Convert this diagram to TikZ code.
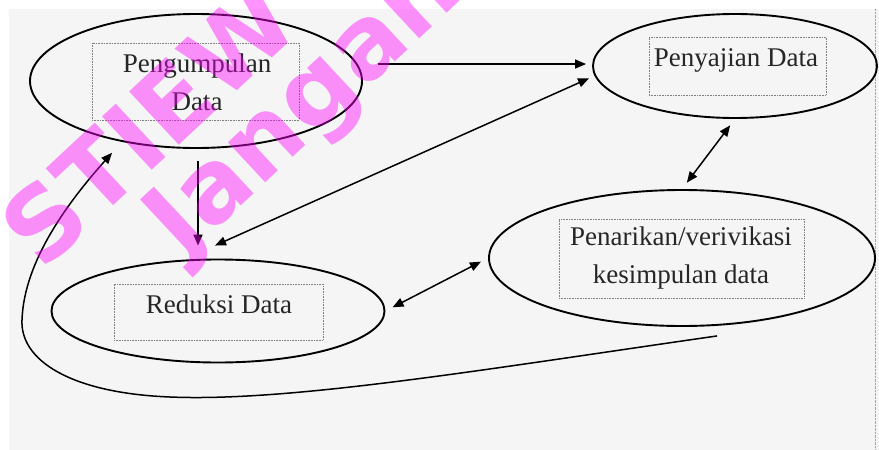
\documentclass[tikz,border=0pt]{standalone}
\usepackage{fontspec}
\setmainfont{Liberation Serif}
\newfontfamily\airfont{DejaVu Sans}
\usetikzlibrary{shapes.geometric,arrows.meta,positioning}
\definecolor{airungu}{RGB}{255,0,255}

\tikzset{
  tahap/.style={draw,ellipse,line width=1.9pt,inner sep=0pt},
  kotak/.style={draw=black!50,densely dotted,line width=.6pt,inner sep=0pt},
  teks/.style={font=\fontsize{27}{38}\selectfont,align=center,text=black!85,inner sep=0pt},
  panah/.style={line width=1.5pt,-{Triangle[length=11pt,width=9pt]}},
  duapanah/.style={line width=1.5pt,{Triangle[length=11pt,width=9pt]}-{Triangle[length=11pt,width=9pt]}},
  tandaair/.style={font=\airfont\bfseries\fontsize{100}{100}\selectfont,text=airungu,text opacity=.42,rotate=43,inner sep=0pt}
}

\begin{document}
\begin{tikzpicture}[x=1pt,y=-1pt]
\useasboundingbox (0,0) rectangle (879,450);
% latar
\fill[black!4] (9,9) rectangle (879,450);
\draw[black!35,densely dotted] (875,9) -- (875,450);

% tahap-tahap analisis
\node[tahap,minimum width=332pt,minimum height=134pt] (kumpul) at (196,81) {};
\node[kotak,minimum width=207pt,minimum height=77pt] (kumpulkotak) at (195.5,81.5) {};
\node[teks] (kumpulteks) at (197,82) {Pengumpulan\\Data};

\node[tahap,minimum width=284pt,minimum height=104pt] (saji) at (735,66) {};
\node[kotak,minimum width=177pt,minimum height=58pt] (sajikotak) at (737.5,66) {};
\node[teks] (sajiteks) at (736,60) {Penyajian Data};

\node[tahap,minimum width=386pt,minimum height=136pt] (tarik) at (682,258) {};
\node[kotak,minimum width=245pt,minimum height=79pt] (tarikkotak) at (681.5,258.5) {};
\node[teks] (tarikteks) at (681,258) {Penarikan/verivikasi\\kesimpulan data};

\node[tahap,minimum width=333pt,minimum height=103pt] (reduksi) at (218,311) {};
\node[kotak,minimum width=209pt,minimum height=56pt] (reduksikotak) at (218.5,312) {};
\node[teks] (reduksiteks) at (219,304) {Reduksi Data};

% alur
\draw[panah,shorten <=20pt,shorten >=6pt] (kumpul.6.4) -- (kumpul.6.4 -| saji.west);
\draw[panah,shorten <=12pt] ([xshift=2pt]kumpul.south) -- ([xshift=2pt,yshift=13pt]kumpul.south |- reduksi.north);
\draw[duapanah,shorten <=6pt] (saji.184) -- ([xshift=-3pt,yshift=13pt]reduksi.north);
\draw[duapanah,shorten <=8pt,shorten >=8pt] (saji.south) -- (tarik.north);
\draw[duapanah,shorten <=8pt,shorten >=8pt] (reduksi.east) -- (tarik.west);
\draw[panah] ([xshift=35pt,yshift=-9pt]tarik.south)
  .. controls (480,370) and (290,402) .. (170,397)
  .. controls (70,393) and (20,360) .. (22,320)
  .. controls (24,260) and (70,200) .. ([yshift=-13pt]kumpul.215);

% tanda air
\begin{scope}
\clip (0,0) rectangle (879,450);
\node[tandaair] (air1) at (148,124) {STIEW};
\node[tandaair] (air2) at (307,109) {Jangan};
\end{scope}
\end{tikzpicture}
\end{document}
